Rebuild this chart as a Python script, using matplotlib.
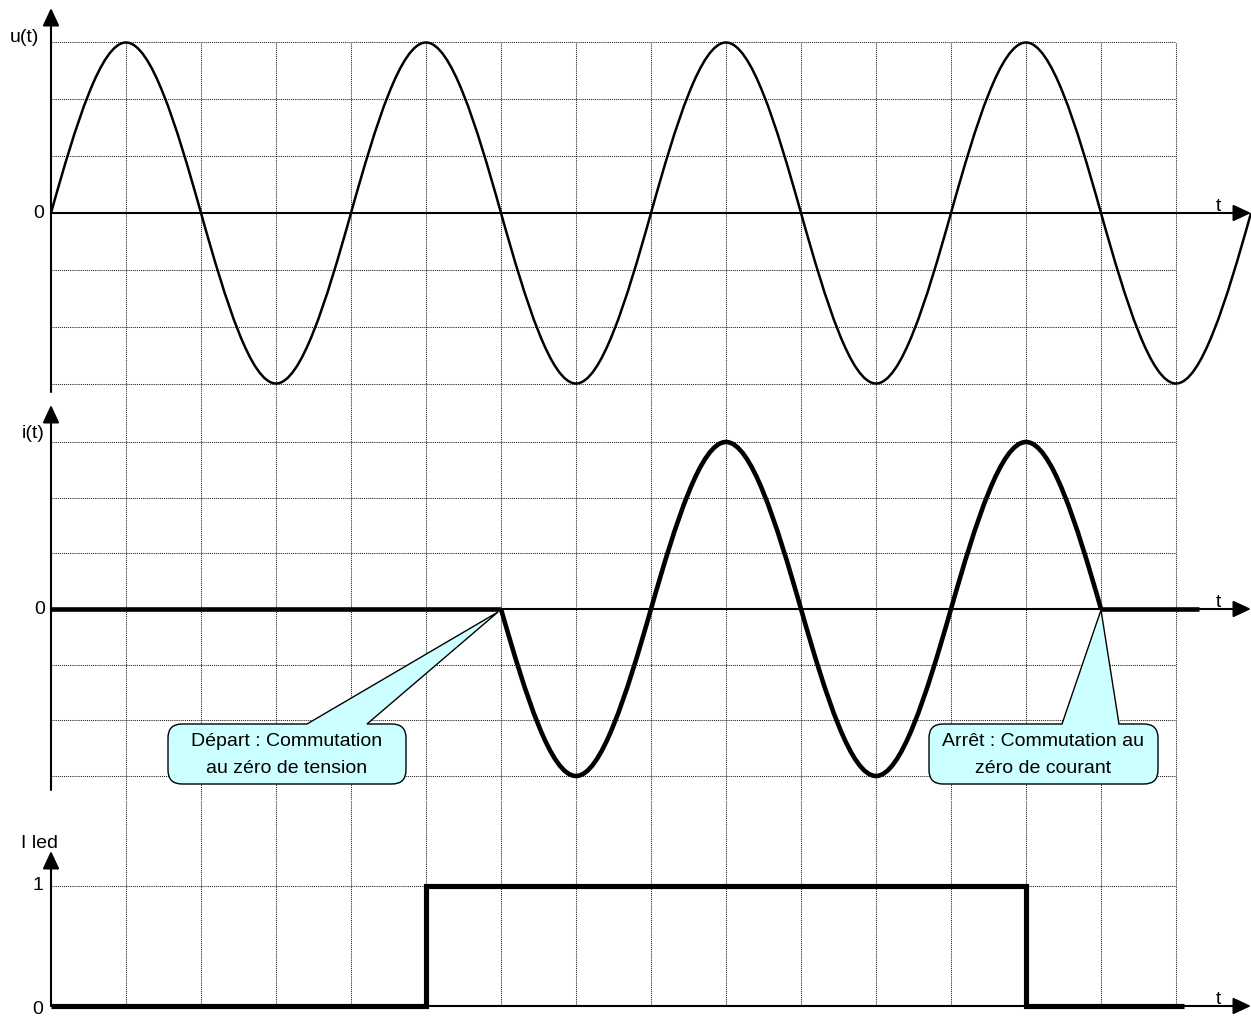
import numpy as np
import matplotlib
matplotlib.use('Agg')
import matplotlib.pyplot as plt
from matplotlib.path import Path
from matplotlib.patches import PathPatch
from matplotlib.transforms import Affine2D

plt.rcParams['font.family'] = ['Liberation Sans', 'DejaVu Sans']

# ---------------- data (time in grid cells) ----------------
u_t = list(range(17))
u_val = [0, 1, 0, -1, 0, 1, 0, -1, 0, 1, 0, -1, 0, 1, 0, -1, 0]

i_off1_t = [0, 6]
i_off1_val = [0, 0]
i_wave_t = [6, 7, 8, 9, 10, 11, 12, 13, 14]
i_wave_val = [0, -1, 0, 1, 0, -1, 0, 1, 0]
i_off2_t = [14, 15.3]
i_off2_val = [0, 0]

led_t = [0, 5, 5, 13, 13, 15.1]
led_val = [0, 0, 1, 1, 0, 0]

grid_t = list(range(1, 16))
grid_levels = [-1, -2 / 3, -1 / 3, 1 / 3, 2 / 3, 1]
led_levels = [1]

u_label = 'u(t)'
i_label = 'i(t)'
led_label = 'I led'
t_label = 't'
callout1 = 'Départ : Commutation\nau zéro de tension'
callout2 = 'Arrêt : Commutation au\nzéro de courant'

# ---------------- layout ----------------
W, H = 1251, 1019
fig = plt.figure(figsize=(W / 100, H / 100), dpi=100)
x0px, cell = 51, 75
xlim = (-x0px / cell, (W - x0px) / cell)
FS = 14
GRID = dict(colors='#1a1a1a', linewidths=0.75, linestyles=[(0, (1, 1))], zorder=1)


def make_ax(top_px, bot_px, zero_px, unit_px):
    ax = fig.add_axes([0, 1 - bot_px / H, 1, (bot_px - top_px) / H])
    ax.set_xlim(*xlim)
    ax.set_ylim((zero_px - bot_px) / unit_px, (zero_px - top_px) / unit_px)
    ax.axis('off')
    ax._z = (zero_px, unit_px)
    return ax


def ypx(ax, px):
    z, u = ax._z
    return (z - px) / u


def xpx(px):
    return (px - x0px) / cell


def smooth_path(ts, ys, k=np.pi / 2):
    n = len(ts)
    sl = []
    for j in range(n):
        if j == 0:
            s = (ys[1] - ys[0]) / (ts[1] - ts[0])
        elif j == n - 1:
            s = (ys[-1] - ys[-2]) / (ts[-1] - ts[-2])
        else:
            s = (ys[j + 1] - ys[j - 1]) / (ts[j + 1] - ts[j - 1])
        sl.append(k * s)
    verts = [(ts[0], ys[0])]
    codes = [Path.MOVETO]
    for j in range(n - 1):
        dt = ts[j + 1] - ts[j]
        verts += [(ts[j] + dt / 3, ys[j] + sl[j] * dt / 3),
                  (ts[j + 1] - dt / 3, ys[j + 1] - sl[j + 1] * dt / 3),
                  (ts[j + 1], ys[j + 1])]
        codes += [Path.CURVE4] * 3
    return Path(verts, codes)


def arrow(ax, start, end):
    ax.annotate('', xy=end, xytext=start, xycoords='data',
                arrowprops=dict(arrowstyle='-|>,head_length=0.9,head_width=0.42',
                                mutation_scale=12, lw=1.5, color='black',
                                shrinkA=0, shrinkB=0),
                annotation_clip=False, zorder=4)


ax_u = make_ax(0, 392, 213, 170.5)
ax_i = make_ax(392, 800, 609, 167)
ax_l = make_ax(800, H, 1006, 120)

# ---------------- grids ----------------
yb, yt = ax_u.get_ylim()
ax_u.vlines(grid_t, yb, 1, **GRID)
ax_u.hlines(grid_levels, 0, 15, **GRID)
yb, yt = ax_i.get_ylim()
ax_i.vlines(grid_t, yb, yt, **GRID)
ax_i.hlines(grid_levels, 0, 15, **GRID)
yb, yt = ax_l.get_ylim()
ax_l.vlines(grid_t, 0, yt, **GRID)
ax_l.hlines(led_levels, 0, 15, **GRID)

# ---------------- axes arrows ----------------
arrow(ax_u, (0, ax_u.get_ylim()[0]), (0, ypx(ax_u, 8)))
arrow(ax_u, (0, 0), (xlim[1], 0))
arrow(ax_i, (0, ypx(ax_i, 790)), (0, ypx(ax_i, 405)))
arrow(ax_i, (0, 0), (xlim[1], 0))
arrow(ax_l, (0, 0), (0, ypx(ax_l, 851)))
arrow(ax_l, (0, 0), (xlim[1], 0))

# ---------------- curves ----------------
ax_u.add_patch(PathPatch(smooth_path(u_t, u_val), fill=False, lw=1.8,
                         edgecolor='black', zorder=3, clip_on=False))
ax_i.plot(i_off1_t, i_off1_val, color='black', lw=3.3, solid_capstyle='butt', zorder=3)
ax_i.plot(i_off2_t, i_off2_val, color='black', lw=3.3, solid_capstyle='butt', zorder=3)
ax_i.add_patch(PathPatch(smooth_path(i_wave_t, i_wave_val), fill=False, lw=3.3,
                         edgecolor='black', zorder=3, capstyle='butt'))
ax_l.plot(led_t, led_val, color='black', lw=3.7, solid_joinstyle='miter',
          solid_capstyle='butt', zorder=3)

# ---------------- labels ----------------
ax_u.text(xpx(39), ypx(ax_u, 37), u_label, ha='right', va='center', fontsize=FS)
ax_u.text(xpx(44), 0, '0', ha='right', va='center', fontsize=FS)
ax_u.text(xpx(1218), ypx(ax_u, 211), t_label, ha='center', va='baseline', fontsize=FS)

ax_i.text(xpx(45), ypx(ax_i, 433), i_label, ha='right', va='center', fontsize=FS)
ax_i.text(xpx(45), 0, '0', ha='right', va='center', fontsize=FS)
ax_i.text(xpx(1218), ypx(ax_i, 607), t_label, ha='center', va='baseline', fontsize=FS)

ax_l.text(xpx(39), ypx(ax_l, 843), led_label, ha='center', va='center', fontsize=FS)
ax_l.text(xpx(43), 1, '1', ha='right', va='center', fontsize=FS)
ax_l.text(xpx(43), ypx(ax_l, 1009), '0', ha='right', va='center', fontsize=FS)
ax_l.text(xpx(1218), ypx(ax_l, 1004), t_label, ha='center', va='baseline', fontsize=FS)

# ---------------- callouts ----------------
px2fig = Affine2D().scale(1 / W, -1 / H).translate(0, 1) + fig.transFigure


def data_to_px(ax, x, y):
    d = ax.transData.transform((x, y))
    return d[0], H - d[1]


def callout(box, wedge, tip, text, r=14):
    x0, x1, y0, y1 = box
    wl, wr = wedge
    verts = [(x0 + r, y0), (wl, y0), tip, (wr, y0), (x1 - r, y0),
             (x1, y0), (x1, y0 + r), (x1, y1 - r),
             (x1, y1), (x1 - r, y1), (x0 + r, y1),
             (x0, y1), (x0, y1 - r), (x0, y0 + r),
             (x0, y0), (x0 + r, y0), (x0 + r, y0)]
    codes = [Path.MOVETO, Path.LINETO, Path.LINETO, Path.LINETO, Path.LINETO,
             Path.CURVE3, Path.CURVE3, Path.LINETO,
             Path.CURVE3, Path.CURVE3, Path.LINETO,
             Path.CURVE3, Path.CURVE3, Path.LINETO,
             Path.CURVE3, Path.CURVE3, Path.CLOSEPOLY]
    fig.add_artist(PathPatch(Path(verts, codes), facecolor='#ccffff',
                             edgecolor='black', lw=1.0, transform=px2fig, zorder=5))
    cx, cy = (x0 + x1) / 2, (y0 + y1) / 2 + 1
    fig.text(cx / W, 1 - cy / H, text, ha='center', va='center',
             fontsize=FS, linespacing=1.75, zorder=6)


tx, ty = data_to_px(ax_i, i_wave_t[0], i_wave_val[0])
callout((168, 406, 724, 784), (307, 367), (tx - 3, ty + 3), callout1)
tx, ty = data_to_px(ax_i, i_wave_t[-1], i_wave_val[-1])
callout((929, 1158, 724, 784), (1062, 1119), (tx, ty + 1), callout2)

fig.savefig('out.png', dpi=100)
